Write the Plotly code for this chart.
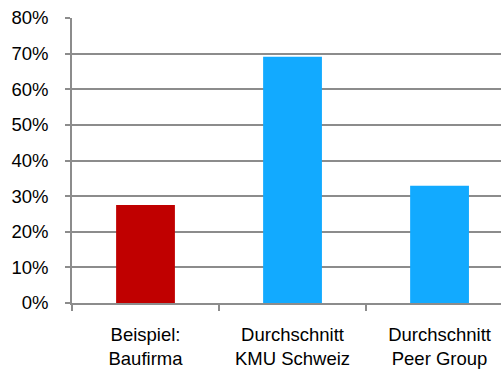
import plotly.graph_objects as go

categories = ["Beispiel:<br>Baufirma", "Durchschnitt<br>KMU Schweiz", "Durchschnitt<br>Peer Group"]
values = [0.275, 0.691, 0.329]
colors = ["#C00000", "#12AAFF", "#12AAFF"]
y_ticks = [0, 0.1, 0.2, 0.3, 0.4, 0.5, 0.6, 0.7, 0.8]

fig = go.Figure(go.Bar(x=[0, 1, 2], y=values, marker=dict(color=colors, line=dict(width=0)),
                       width=0.4))

font = dict(family="Liberation Sans, Arial, sans-serif", size=18.5, color="#000000")
fig.update_layout(
    width=501, height=371,
    margin=dict(l=72, r=0, t=18, b=68),
    plot_bgcolor="white", paper_bgcolor="white",
    showlegend=False, font=font,
    xaxis=dict(range=[-0.5, 2.418], tickmode="array", tickvals=[0, 1, 2], ticktext=categories,
               showgrid=False, zeroline=False, showline=False,
               ticks="", tickfont=font, ticklabelstandoff=18),
    yaxis=dict(range=[0, 0.8], tickvals=y_ticks, tickformat=".0%",
               showgrid=True, gridcolor="#8c8c8c", gridwidth=1.5,
               zeroline=False, showline=True, linecolor="#8c8c8c", linewidth=1.5,
               ticks="outside", ticklen=5, tickcolor="#8c8c8c", tickwidth=1.5,
               tickfont=font, ticklabelstandoff=13),
)
# x-axis boundary ticks via a secondary overlay axis
fig.update_layout(xaxis2=dict(overlaying="x", range=[-0.5, 2.418], tickvals=[-0.5, 0.5, 1.5, 2.5],
                              showticklabels=False, ticks="outside", ticklen=6, tickwidth=1.5,
                              tickcolor="#8c8c8c", showline=True, linecolor="#8c8c8c", linewidth=1.5,
                              showgrid=False, zeroline=False, side="bottom", anchor="y"))
fig.add_trace(go.Scatter(x=[None], y=[None], xaxis="x2", showlegend=False, hoverinfo="skip"))
fig.write_html("out.html")
